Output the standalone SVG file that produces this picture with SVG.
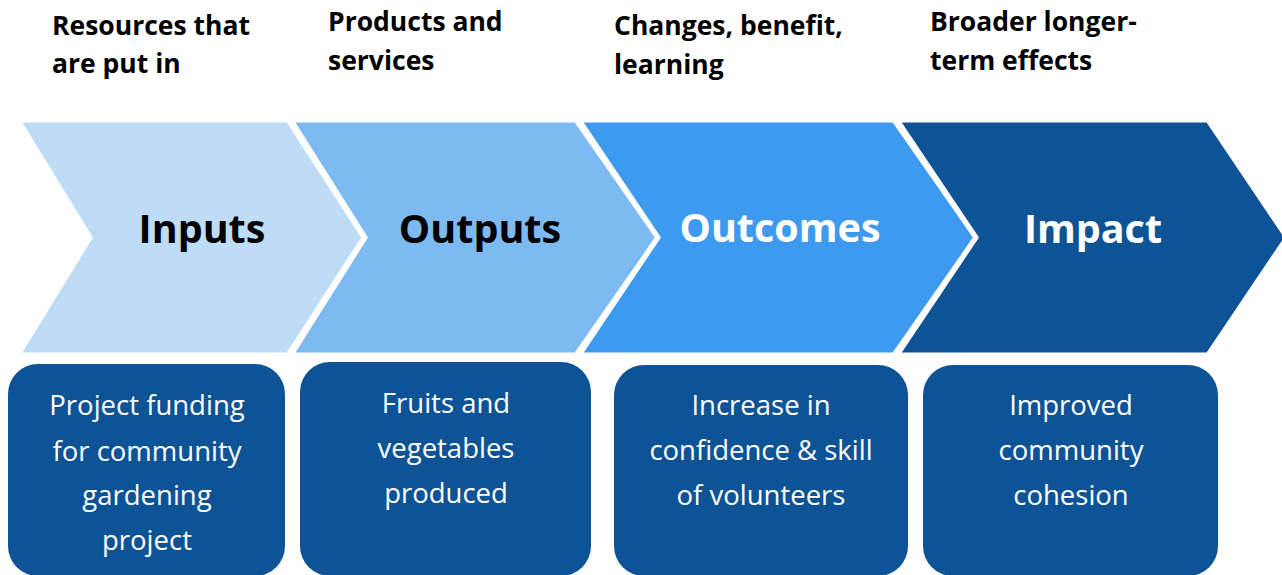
<svg xmlns="http://www.w3.org/2000/svg" width="1282" height="575" viewBox="0 0 1282 575">
<style>
.hdr{font-family:"Open Sans","Liberation Sans",sans-serif;font-weight:700;font-size:26.5px;fill:#000}
.chev{stroke:#fff;stroke-width:5;stroke-linejoin:miter}
.ct{font-family:"Open Sans","Liberation Sans",sans-serif;font-weight:700;font-size:39.5px;text-anchor:middle}
.box{fill:#0e5395}
.bt{font-family:"Open Sans","Liberation Sans",sans-serif;font-size:27.5px;fill:#fff;text-anchor:middle}
</style>
<rect width="1282" height="575" fill="#fff"/>
<g id="headers">
<text class="hdr" x="52" y="35">Resources that</text>
<text class="hdr" x="52" y="73">are put in</text>
<text class="hdr" x="328" y="31">Products and</text>
<text class="hdr" x="328" y="70">services</text>
<text class="hdr" x="614" y="35">Changes, benefit,</text>
<text class="hdr" x="614" y="74">learning</text>
<text class="hdr" x="930" y="31">Broader longer-</text>
<text class="hdr" x="930" y="70">term effects</text>
</g>
<g id="chevron-inputs">
<polygon class="chev" fill="#bfdcf7" points="18,120 288,120 364,237.5 288,355 18,355 90,237.5"/>
<text class="ct" x="202" y="243" fill="#000">Inputs</text>
</g>
<g id="chevron-outputs">
<polygon class="chev" fill="#7dbaf2" points="291,120 576,120 658,237.5 576,355 291,355 365,237.5"/>
<text class="ct" x="480" y="243" fill="#000">Outputs</text>
</g>
<g id="chevron-outcomes">
<polygon class="chev" fill="#3d9aef" points="579,120 894,120 976,237.5 894,355 579,355 658,237.5"/>
<text class="ct" x="780" y="242" fill="#fff">Outcomes</text>
</g>
<g id="chevron-impact">
<polygon class="chev" fill="#0e5395" points="897,120 1208,120 1287,237.5 1208,355 897,355 976,237.5"/>
<text class="ct" x="1093" y="243" fill="#fff">Impact</text>
</g>
<g id="box-inputs">
<rect class="box" x="8" y="364" width="277" height="212" rx="30"/>
<text class="bt" x="147" y="415">Project funding</text>
<text class="bt" x="147" y="461">for community</text>
<text class="bt" x="147" y="505">gardening</text>
<text class="bt" x="147" y="550">project</text>
</g>
<g id="box-outputs">
<rect class="box" x="300" y="362" width="291" height="214" rx="30"/>
<text class="bt" x="446" y="413">Fruits and</text>
<text class="bt" x="446" y="458">vegetables</text>
<text class="bt" x="446" y="503">produced</text>
</g>
<g id="box-outcomes">
<rect class="box" x="614" y="365" width="294" height="211" rx="30"/>
<text class="bt" x="761" y="415">Increase in</text>
<text class="bt" x="761" y="460">confidence &amp; skill</text>
<text class="bt" x="761" y="505">of volunteers</text>
</g>
<g id="box-impact">
<rect class="box" x="923" y="365" width="295" height="211" rx="30"/>
<text class="bt" x="1071" y="415">Improved</text>
<text class="bt" x="1071" y="460">community</text>
<text class="bt" x="1071" y="505">cohesion</text>
</g>
<g id="connectors"></g>
</svg>
